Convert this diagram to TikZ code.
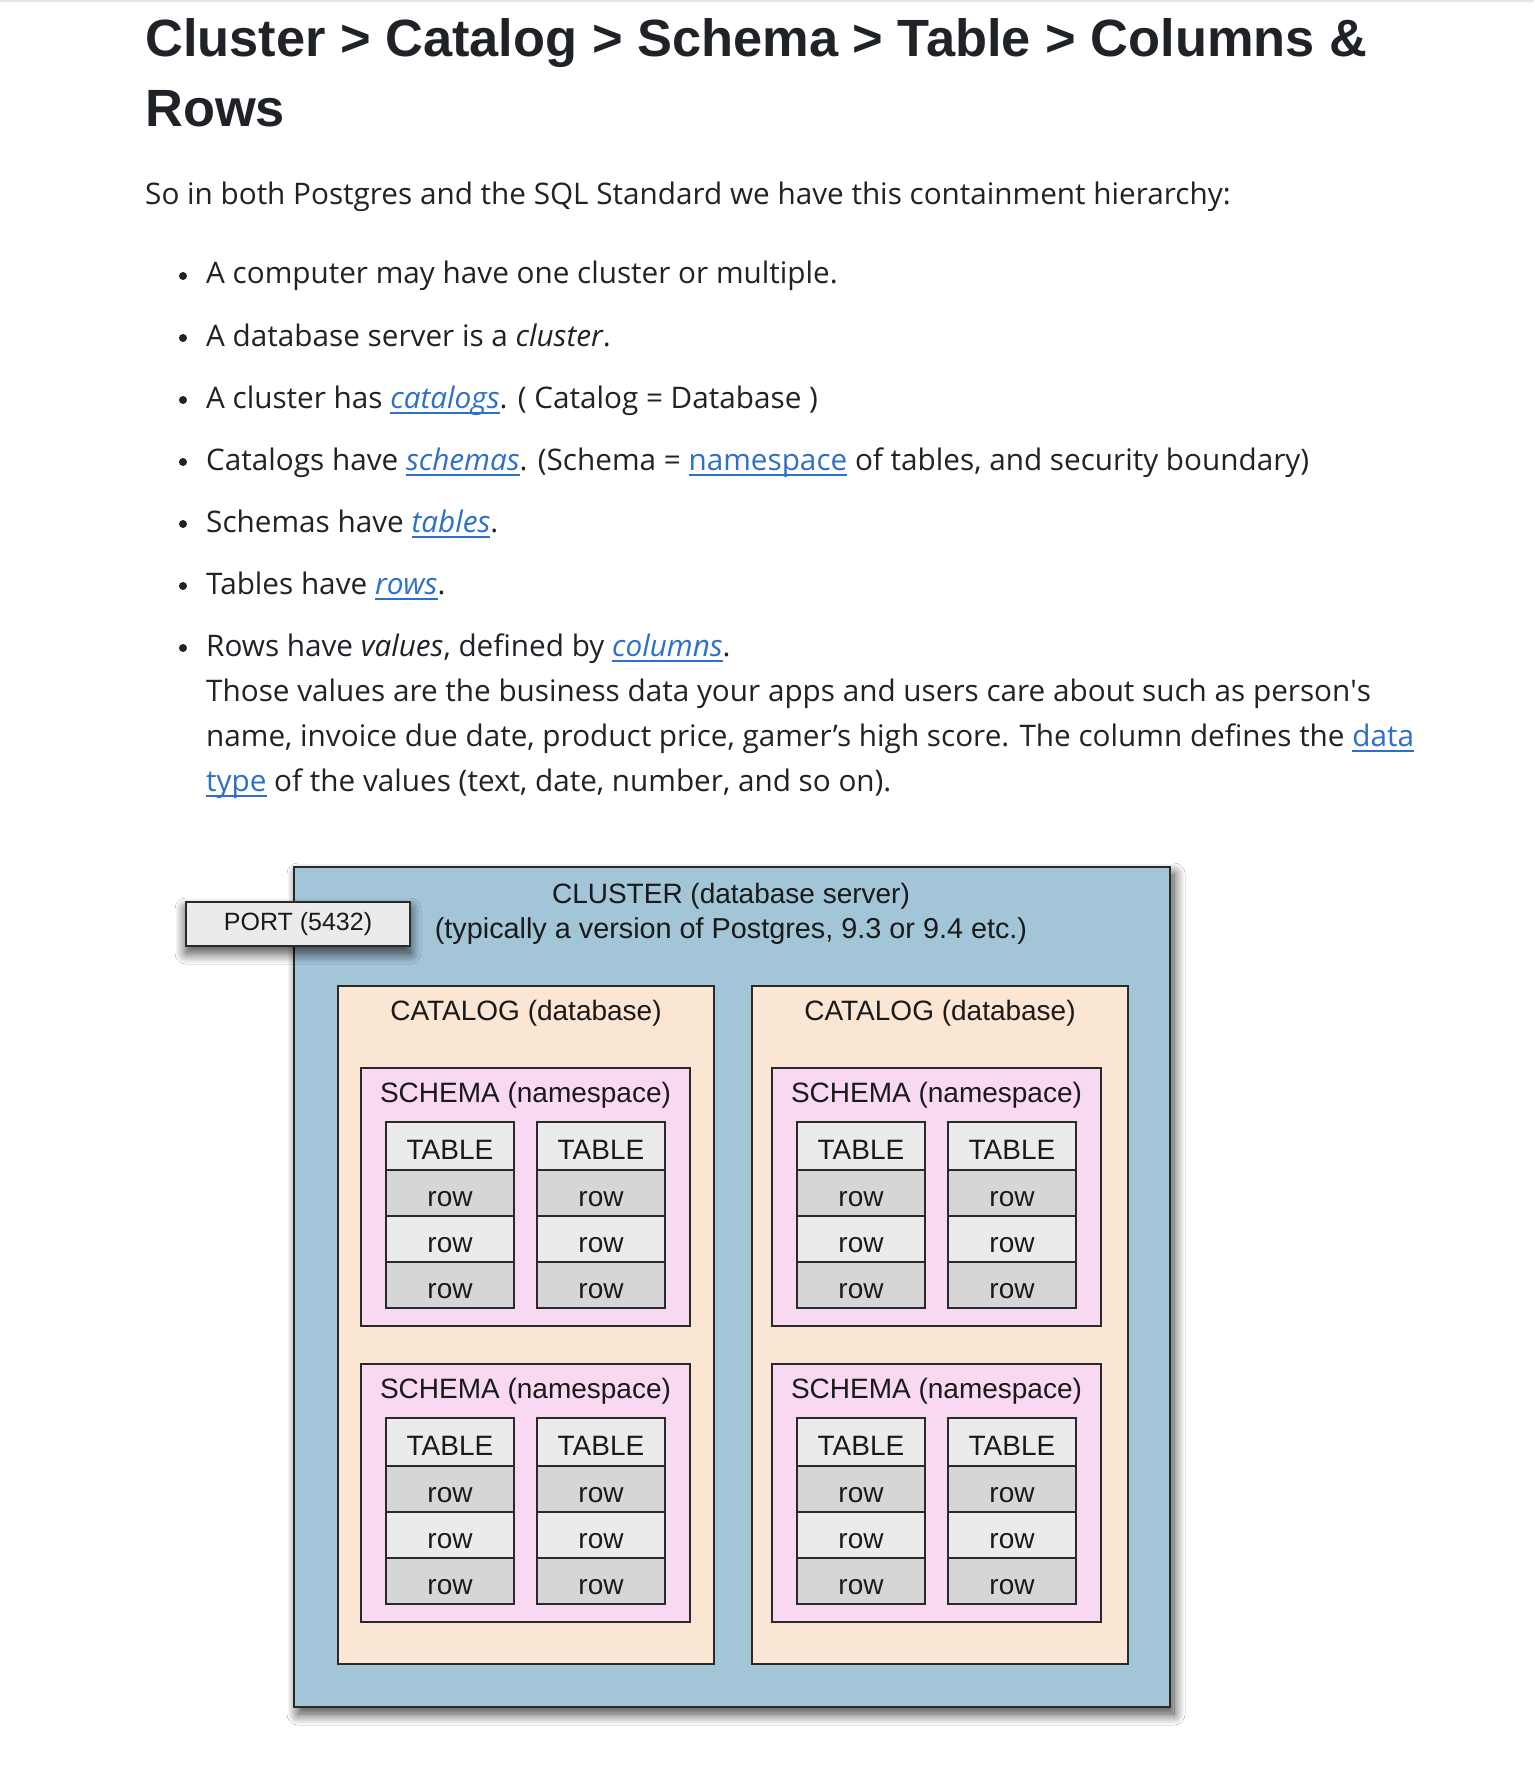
\documentclass[tikz,border=0pt]{standalone}
\usepackage{fontspec}
\setmainfont{Open Sans}
\newfontfamily\titlefont{Liberation Sans}
\newfontfamily\diafont{Liberation Sans}
\usetikzlibrary{shadows.blur}
\definecolor{ink}{HTML}{1F2328}
\definecolor{dink}{HTML}{1A1A1A}
\definecolor{linkc}{HTML}{2E6FC7}
\definecolor{clusterc}{HTML}{A2C5D8}
\definecolor{catc}{HTML}{FBE5D3}
\definecolor{schc}{HTML}{F9D8F2}
\definecolor{lightg}{HTML}{EBEBEB}
\definecolor{darkg}{HTML}{D6D6D6}
\definecolor{edge}{HTML}{2A2A2A}
\newsavebox\lnkbox
\newcommand\lnk[1]{\textcolor{linkc}{\sbox\lnkbox{#1}\rlap{\rule[-6pt]{\wd\lnkbox}{1.8pt}}\usebox\lnkbox}}
\tikzset{
  box/.style={draw=edge, line width=1.6pt, anchor=north west, inner sep=0pt, outer sep=0pt},
  cell/.style={box, minimum width=128, font=\diafont\fontsize{28}{30}\selectfont, text=dink, text height=27, text depth=0},
  hdrcell/.style={cell, fill=lightg, minimum height=48},
  rowdark/.style={cell, fill=darkg, minimum height=46},
  rowlight/.style={cell, fill=lightg, minimum height=46},
  lbl/.style={inner sep=0pt, font=\diafont\fontsize{28}{30}\selectfont, text=dink},
  bodytxt/.style={anchor=base west, inner sep=0pt, font=\fontsize{29.7}{34}\selectfont, text=ink},
  titletxt/.style={anchor=base west, inner sep=0pt, font=\titlefont\bfseries\fontsize{52.4}{60}\selectfont, text=ink},
  bullet/.style={circle, fill=ink, inner sep=0pt, minimum size=8},
  softshadow/.style={blur shadow={shadow xshift=#1, shadow yshift=-7pt, shadow blur radius=11pt, shadow blur steps=20, shadow opacity=75}},
}
\newcommand\mktable[3]{%
  \node[hdrcell] (#1h) at (#2,#3) {TABLE};
  \node[rowdark] (#1a) at (#1h.south west) {row};
  \node[rowlight] (#1b) at (#1a.south west) {row};
  \node[rowdark] (#1c) at (#1b.south west) {row};
}
\newcommand\mkschema[3]{%
  \node[box, fill=schc, minimum width=329, minimum height=258] (#1) at (#2,#3) {};
  \node[lbl] (#1t) at ([yshift=-27pt]#1.north) {SCHEMA (namespace)};
  \mktable{#1L}{#2+25}{#3+54}
  \mktable{#1R}{#2+176}{#3+54}
}
\begin{document}
\begin{tikzpicture}[x=1pt, y=-1pt]
\useasboundingbox (0,0) rectangle (1534,1768);
\fill[white] (0,0) rectangle (1534,1768);
\fill[black!10] (0,0) rectangle (1534,2);
% heading
\node[titletxt] (title1) at (145,57) {Cluster > Catalog > Schema > Table > Columns \&};
\node[titletxt] (title2) at (145,127) {Rows};
\node[bodytxt] (intro) at (145,205) {So in both Postgres and the SQL Standard we have this containment hierarchy:};
% bullets
\node[bullet] (b1) at (183,276) {};
\node[bodytxt] (t1) at (206,284) {A computer may have one cluster or multiple.};
\node[bullet] (b2) at (183,338) {};
\node[bodytxt] (t2) at (206,346) {A database server is a \textit{cluster}.};
\node[bullet] (b3) at (183,400) {};
\node[bodytxt] (t3) at (206,408) {A cluster has \lnk{\textit{catalogs}}. ( Catalog = Database )};
\node[bullet] (b4) at (183,462) {};
\node[bodytxt] (t4) at (206,470) {Catalogs have \lnk{\textit{schemas}}. (Schema = \lnk{namespace} of tables, and security boundary)};
\node[bullet] (b5) at (183,524) {};
\node[bodytxt] (t5) at (206,532) {Schemas have \lnk{\textit{tables}}.};
\node[bullet] (b6) at (183,586) {};
\node[bodytxt] (t6) at (206,594) {Tables have \lnk{\textit{rows}}.};
\node[bullet] (b7) at (183,648) {};
\node[bodytxt] (t7) at (206,656) {Rows have \textit{values}, defined by \lnk{\textit{columns}}.};
\node[bodytxt] (t8) at (206,701) {Those values are the business data your apps and users care about such as person\textquotesingle s};
\node[bodytxt] (t9) at (206,746) {name, invoice due date, product price, gamer’s high score. The column defines the \lnk{data}};
\node[bodytxt] (t10) at (206,791) {\lnk{type} of the values (text, date, number, and so on).};
% diagram
\node[box, fill=clusterc, line width=2pt, minimum width=876, minimum height=840, softshadow=4pt] (cluster) at (294,867) {};
\node[box, fill=lightg, minimum width=224, minimum height=44, softshadow=0pt] (port) at (186,902) {};
\node[lbl, font=\diafont\fontsize{25}{28}\selectfont] (portt) at (port.center) {PORT (5432)};
\node[lbl] (cl1) at (731,896) {CLUSTER (database server)};
\node[lbl, font=\diafont\fontsize{28.8}{30}\selectfont] (cl2) at (731,931) {(typically a version of Postgres, 9.3 or 9.4 etc.)};
\node[box, fill=catc, minimum width=376, minimum height=678] (catL) at (338,986) {};
\node[lbl] (catLt) at ([yshift=-27pt]catL.north) {CATALOG (database)};
\node[box, fill=catc, minimum width=376, minimum height=678] (catR) at (752,986) {};
\node[lbl] (catRt) at ([yshift=-27pt]catR.north) {CATALOG (database)};
\mkschema{sTL}{361}{1068}
\mkschema{sBL}{361}{1364}
\mkschema{sTR}{772}{1068}
\mkschema{sBR}{772}{1364}
\end{tikzpicture}
\end{document}
